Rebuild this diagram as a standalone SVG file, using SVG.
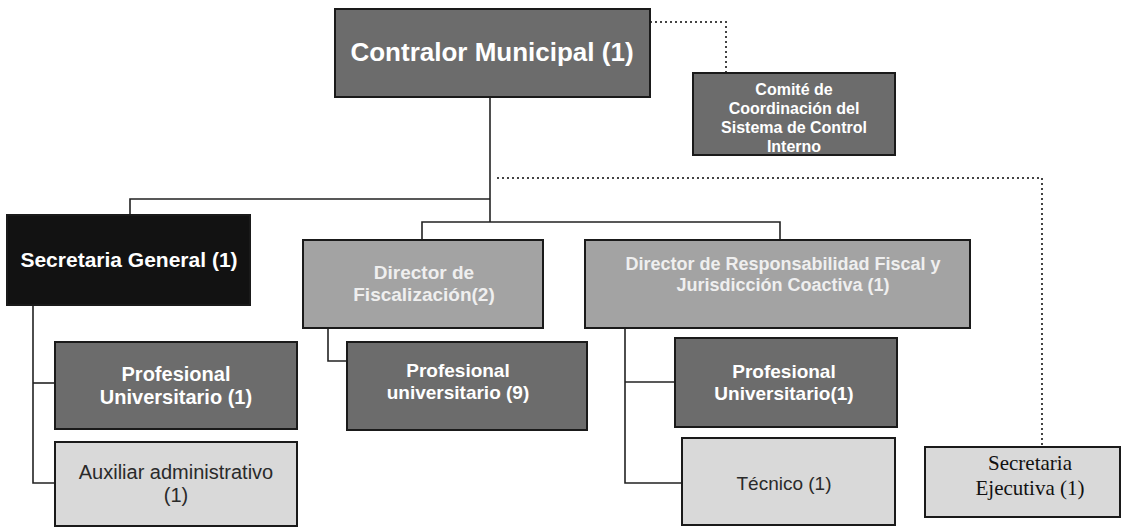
<svg xmlns="http://www.w3.org/2000/svg" width="1125" height="528" viewBox="0 0 1125 528">
<style>
.box{stroke:#1a1a1a;stroke-width:2}
.dark{fill:#6c6c6c}
.black{fill:#121212}
.mid{fill:#a3a3a3}
.light{fill:#d9d9d9}
.t{font-family:"Liberation Sans",Arial,sans-serif;text-anchor:middle;dominant-baseline:central}
.w{fill:#ffffff;font-weight:bold}
.lw{fill:#efefef;font-weight:bold}
.k{fill:#2a2a2a}
.serif{font-family:"Liberation Serif",serif;fill:#111;text-anchor:middle;dominant-baseline:central}
.line{stroke:#222;stroke-width:1.6;fill:none}
.dot{stroke:#444;stroke-width:2;stroke-dasharray:2 3;fill:none}
</style>
<rect width="1125" height="528" fill="#ffffff"/>
<g id="connectors">
<polyline class="dot" points="650,22 726,22 726,74"/>
<polyline class="line" points="490,97 490,222"/>
<polyline class="line" points="490,199 130,199 130,215"/>
<polyline class="line" points="422,240 422,222 780,222 780,240"/>
<polyline class="dot" points="497,178 1042,178 1042,446"/>
<polyline class="line" points="33,305 33,483 55,483"/>
<polyline class="line" points="33,383 55,383"/>
<polyline class="line" points="328,328 328,361 347,361"/>
<polyline class="line" points="625,328 625,483 682,483"/>
<polyline class="line" points="625,382 675,382"/>
</g>
<g id="contralor">
<rect class="box dark" x="335" y="9" width="315" height="88"/>
<text class="t w" x="492" y="52" font-size="26">Contralor Municipal (1)</text>
</g>
<g id="comite">
<rect class="box dark" x="693" y="73" width="202" height="82"/>
<text class="t w" font-size="16" x="794"><tspan x="794" y="89">Comité de</tspan><tspan x="794" y="108">Coordinación del</tspan><tspan x="794" y="127">Sistema de Control</tspan><tspan x="794" y="146">Interno</tspan></text>
</g>
<g id="secretaria-general">
<rect class="box black" x="7" y="215" width="243" height="90"/>
<text class="t w" x="129" y="259" font-size="21">Secretaria General (1)</text>
</g>
<g id="director-fiscalizacion">
<rect class="box mid" x="303" y="240" width="240" height="88"/>
<text class="t lw" font-size="19"><tspan x="424" y="272">Director de</tspan><tspan x="424" y="294">Fiscalización(2)</tspan></text>
</g>
<g id="director-responsabilidad">
<rect class="box mid" x="585" y="240" width="385" height="88"/>
<text class="t lw" font-size="18"><tspan x="783" y="264">Director de Responsabilidad Fiscal y</tspan><tspan x="783" y="285">Jurisdicción Coactiva (1)</tspan></text>
</g>
<g id="profesional-sg">
<rect class="box dark" x="55" y="342" width="242" height="87"/>
<text class="t w" font-size="20"><tspan x="176" y="374">Profesional</tspan><tspan x="176" y="397">Universitario (1)</tspan></text>
</g>
<g id="auxiliar">
<rect class="box light" x="55" y="442" width="242" height="84"/>
<text class="t k" font-size="20"><tspan x="176" y="472">Auxiliar administrativo</tspan><tspan x="176" y="495">(1)</tspan></text>
</g>
<g id="profesional-fisc">
<rect class="box dark" x="347" y="342" width="240" height="88"/>
<text class="t w" font-size="19"><tspan x="458" y="370">Profesional</tspan><tspan x="458" y="392">universitario (9)</tspan></text>
</g>
<g id="profesional-resp">
<rect class="box dark" x="675" y="338" width="222" height="89"/>
<text class="t w" font-size="19"><tspan x="784" y="371">Profesional</tspan><tspan x="784" y="393">Universitario(1)</tspan></text>
</g>
<g id="tecnico">
<rect class="box light" x="682" y="438" width="213" height="87"/>
<text class="t k" x="784" y="483" font-size="19">Técnico (1)</text>
</g>
<g id="secretaria-ejecutiva">
<rect class="box light" x="925" y="447" width="195" height="70"/>
<text class="serif" font-size="21"><tspan x="1030" y="463">Secretaria</tspan><tspan x="1030" y="488">Ejecutiva (1)</tspan></text>
</g>
</svg>
